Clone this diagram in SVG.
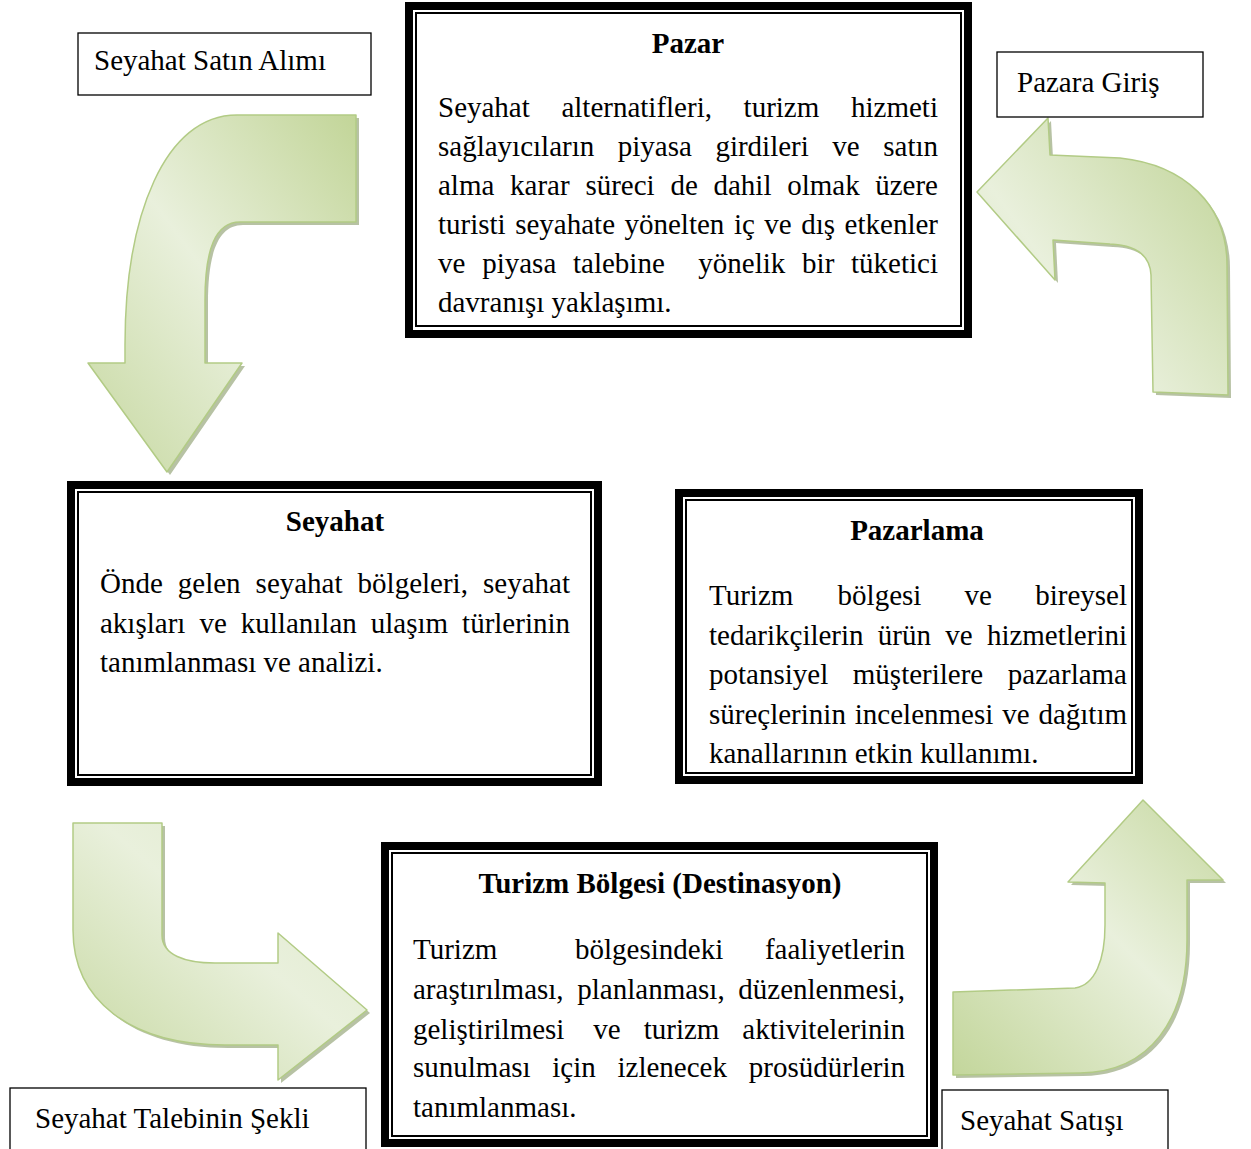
<svg xmlns="http://www.w3.org/2000/svg" width="1251" height="1149" viewBox="0 0 1251 1149">
<defs>
<style>
text{font-family:"Liberation Serif","Times New Roman",serif;font-size:29px;fill:#000}
.t{font-weight:bold}
.e{text-anchor:end}
.c{text-anchor:middle}
.outer{fill:#fff;stroke:#000;stroke-width:8}
.inner{fill:none;stroke:#000;stroke-width:2}
.lbl{fill:#fff;stroke:#000;stroke-width:1.3}
.arrow{stroke:#b2cb85;stroke-width:1.5;stroke-linejoin:round}
.shadow{fill:#9fae85;opacity:0.75}
</style>
<linearGradient id="g1" x1="1" y1="0" x2="0" y2="1">
<stop offset="0" stop-color="#c2d598"/><stop offset="0.5" stop-color="#e9f0dc"/><stop offset="1" stop-color="#c6d8a0"/>
</linearGradient>
<linearGradient id="g2" x1="1" y1="0.2" x2="0" y2="1">
<stop offset="0" stop-color="#c5d79f"/><stop offset="0.6" stop-color="#e9f0dc"/><stop offset="1" stop-color="#d8e5c0"/>
</linearGradient>
<linearGradient id="g3" x1="0" y1="1" x2="1" y2="0">
<stop offset="0" stop-color="#c6d8a0"/><stop offset="0.55" stop-color="#e9f0dc"/><stop offset="1" stop-color="#dde8c8"/>
</linearGradient>
<linearGradient id="g4" x1="0" y1="1" x2="1" y2="0">
<stop offset="0" stop-color="#c3d69b"/><stop offset="0.55" stop-color="#e9f0dc"/><stop offset="1" stop-color="#c6d8a0"/>
</linearGradient>
</defs>

<g id="connectors">
<g id="arrow-satin-alimi">
<path class="shadow" transform="translate(3,3)" d="M356,115 L237,115 C165,115 125,215 125,345 L125,363 L88,363 L167,472 L242,363 L205,363 L205,300 C205,250 215,222 240,222 L356,222 Z"/>
<path class="arrow" fill="url(#g1)" d="M356,115 L237,115 C165,115 125,215 125,345 L125,363 L88,363 L167,472 L242,363 L205,363 L205,300 C205,250 215,222 240,222 L356,222 Z"/>
</g>
<g id="arrow-pazara-giris">
<path class="shadow" transform="translate(3,3)" d="M977,192 L1048,118 L1050,155 L1120,158 C1185,165 1227,205 1227,265 L1228,395 L1153,392 L1151,275 C1150,255 1135,245 1110,244 L1053,240 L1055,280 Z"/>
<path class="arrow" fill="url(#g2)" d="M977,192 L1048,118 L1050,155 L1120,158 C1185,165 1227,205 1227,265 L1228,395 L1153,392 L1151,275 C1150,255 1135,245 1110,244 L1053,240 L1055,280 Z"/>
</g>
<g id="arrow-talep">
<path class="shadow" transform="translate(3,3)" d="M73,823 L162,823 L162,935 C162,955 185,963 215,963 L278,963 L278,933 L367,1010 L278,1080 L278,1045 L225,1045 C130,1045 73,1000 73,930 Z"/>
<path class="arrow" fill="url(#g3)" d="M73,823 L162,823 L162,935 C162,955 185,963 215,963 L278,963 L278,933 L367,1010 L278,1080 L278,1045 L225,1045 C130,1045 73,1000 73,930 Z"/>
</g>
<g id="arrow-satis">
<path class="shadow" transform="translate(3,3)" d="M953,992 L1075,988 C1095,985 1105,960 1105,925 L1105,883 L1068,882 L1143,800 L1223,880 L1187,880 L1187,940 C1187,1020 1150,1072 1080,1073 L953,1075 Z"/>
<path class="arrow" fill="url(#g4)" d="M953,992 L1075,988 C1095,985 1105,960 1105,925 L1105,883 L1068,882 L1143,800 L1223,880 L1187,880 L1187,940 C1187,1020 1150,1072 1080,1073 L953,1075 Z"/>
</g>
</g>

<g id="pazar">
<rect class="outer" x="409" y="6" width="559" height="328"/>
<rect class="inner" x="416" y="13" width="545" height="313"/>
<text class="t c" x="688" y="53">Pazar</text>
<text y="117"><tspan x="438">Seyahat</tspan><tspan x="561.4">alternatifleri,</tspan><tspan x="743.6">turizm</tspan><tspan class="e" x="938">hizmeti</tspan></text>
<text y="156"><tspan x="438">sağlayıcıların</tspan><tspan x="617.8">piyasa</tspan><tspan x="715.4">girdileri</tspan><tspan x="832.3">ve</tspan><tspan class="e" x="938">satın</tspan></text>
<text y="195"><tspan x="438">alma</tspan><tspan x="510.1">karar</tspan><tspan x="585.4">süreci</tspan><tspan x="670.4">de</tspan><tspan x="713.5">dahil</tspan><tspan x="787.2">olmak</tspan><tspan class="e" x="938">üzere</tspan></text>
<text y="234"><tspan x="438">turisti</tspan><tspan x="515.2">seyahate</tspan><tspan x="624.5">yönelten</tspan><tspan x="733.9">iç</tspan><tspan x="764.3">ve</tspan><tspan x="801.2">dış</tspan><tspan class="e" x="938">etkenler</tspan></text>
<text y="273"><tspan x="438">ve</tspan><tspan x="482.2">piyasa</tspan><tspan x="573">talebine</tspan><tspan x="698.3">yönelik</tspan><tspan x="802.1">bir</tspan><tspan class="e" x="938">tüketici</tspan></text>
<text x="438" y="312">davranışı yaklaşımı.</text>
</g>

<g id="seyahat">
<rect class="outer" x="71" y="485" width="527" height="297"/>
<rect class="inner" x="78" y="492" width="513" height="283"/>
<text class="t c" x="335" y="531">Seyahat</text>
<text y="593"><tspan x="100">Önde</tspan><tspan x="177.8">gelen</tspan><tspan x="255.6">seyahat</tspan><tspan x="357.6">bölgeleri,</tspan><tspan class="e" x="570">seyahat</tspan></text>
<text y="633"><tspan x="100">akışları</tspan><tspan x="199.4">ve</tspan><tspan x="240.8">kullanılan</tspan><tspan x="370.8">ulaşım</tspan><tspan class="e" x="570">türlerinin</tspan></text>
<text x="100" y="672">tanımlanması ve analizi.</text>
</g>

<g id="pazarlama">
<rect class="outer" x="679" y="493" width="460" height="287"/>
<rect class="inner" x="686" y="500" width="446" height="273"/>
<text class="t c" x="917" y="540">Pazarlama</text>
<text y="605"><tspan x="709">Turizm</tspan><tspan x="837.6">bölgesi</tspan><tspan x="964.6">ve</tspan><tspan class="e" x="1127">bireysel</tspan></text>
<text y="645"><tspan x="709">tedarikçilerin</tspan><tspan x="877.8">ürün</tspan><tspan x="945.2">ve</tspan><tspan class="e" x="1127">hizmetlerini</tspan></text>
<text y="684"><tspan x="709">potansiyel</tspan><tspan x="852.8">müşterilere</tspan><tspan class="e" x="1127">pazarlama</tspan></text>
<text y="724"><tspan x="709">süreçlerinin</tspan><tspan x="854.8">incelenmesi</tspan><tspan x="1002.2">ve</tspan><tspan class="e" x="1127">dağıtım</tspan></text>
<text x="709" y="763">kanallarının etkin kullanımı.</text>
</g>

<g id="turizm-bolgesi">
<rect class="outer" x="385" y="846" width="549" height="297"/>
<rect class="inner" x="392" y="853" width="535" height="283"/>
<text class="t c" x="660" y="893">Turizm Bölgesi (Destinasyon)</text>
<text y="959"><tspan x="413">Turizm</tspan><tspan x="575">bölgesindeki</tspan><tspan class="e" x="905">faaliyetlerin</tspan></text>
<text y="999"><tspan x="413">araştırılması,</tspan><tspan x="577.3">planlanması,</tspan><tspan class="e" x="905">düzenlenmesi,</tspan></text>
<text y="1039"><tspan x="413">geliştirilmesi</tspan><tspan x="593.3">ve</tspan><tspan x="643.7">turizm</tspan><tspan class="e" x="905">aktivitelerinin</tspan></text>
<text y="1077"><tspan x="413">sunulması</tspan><tspan x="552.3">için</tspan><tspan x="617.5">izlenecek</tspan><tspan class="e" x="905">prosüdürlerin</tspan></text>
<text x="413" y="1117">tanımlanması.</text>
</g>

<g id="label-satin-alimi">
<rect class="lbl" x="78" y="33" width="293" height="62"/>
<text x="94" y="70">Seyahat Satın Alımı</text>
</g>
<g id="label-pazara-giris">
<rect class="lbl" x="997" y="52" width="206" height="65"/>
<text x="1017" y="92">Pazara Giriş</text>
</g>
<g id="label-talep">
<rect class="lbl" x="10" y="1088" width="356" height="70"/>
<text x="35" y="1128">Seyahat Talebinin Şekli</text>
</g>
<g id="label-satis">
<rect class="lbl" x="942" y="1090" width="226" height="70"/>
<text x="960" y="1130">Seyahat Satışı</text>
</g>
</svg>
